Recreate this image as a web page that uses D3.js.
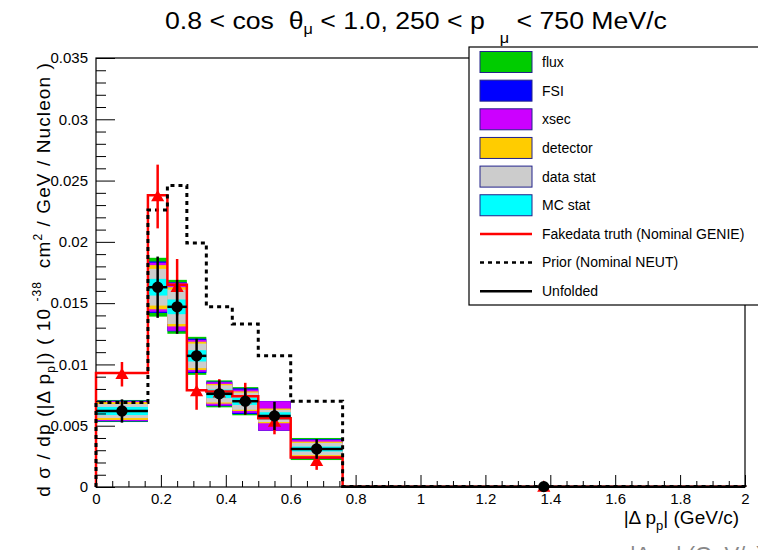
<!DOCTYPE html>
<html>
<head>
<meta charset="utf-8">
<script src="https://cdn.jsdelivr.net/npm/d3@7"></script>
<style>
  body { margin: 0; background: #fff; }
  svg { font-family: "Liberation Sans", Arial, sans-serif; }
  text { white-space: pre; }
</style>
</head>
<body>
<svg id="chart" width="758" height="550"></svg>
<script>
// bins in |dp_p| (GeV/c)
const binEdges = [0, 0.16, 0.22, 0.28, 0.34, 0.42, 0.5, 0.6, 0.76, 2.0];

// unfolded result (black points)
const unfolded    = [0.0062, 0.0163, 0.0147, 0.0107, 0.0076, 0.0070, 0.0058, 0.0031, 0.00003];
const unfoldedErr = [0.00095, 0.0025, 0.0022, 0.0014, 0.0011, 0.0011, 0.00115, 0.0008, 0.00002];

// fake data truth (red line) and fake data points (red triangles)
const fakeTruth   = [0.0093, 0.0238, 0.0165, 0.0079, 0.0078, 0.0074, 0.0056, 0.0024, 0.00002];
const fakeData    = [0.0092, 0.0237, 0.0163, 0.0078, 0.0077, 0.0072, 0.0053, 0.0021, 0.00001];
const fakeDataErr = [0.0010, 0.0026, 0.0023, 0.0015, 0.0011, 0.0013, 0.0010, 0.0007, 0.00002];

// prior (dotted)
const prior = [0.0069, 0.0226, 0.0246, 0.0199, 0.0147, 0.0133, 0.0107, 0.0070, 0.00005];

// error bands, half widths, cumulative from inner (MC stat) to outer (flux)
const bandMCstat   = [0.00033, 0.00068, 0.0006, 0.00046, 0.00035, 0.0003, 0.0003, 0.0002, 0.00001];
const bandDataStat = [0.00057, 0.0015, 0.0014, 0.0010, 0.0007, 0.0007, 0.0005, 0.0005, 0.00001];
const bandDetector = [0.00073, 0.0018, 0.0016, 0.00115, 0.0008, 0.0008, 0.0006, 0.0006, 0.00002];
const bandXsec     = [0.0008, 0.0020, 0.00196, 0.0013, 0.00095, 0.00095, 0.0012, 0.00075, 0.00002];
const bandFSI      = [0.00085, 0.0021, 0.0020, 0.0014, 0.0010, 0.00105, 0.00121, 0.0008, 0.00002];
const bandFlux     = [0.0009, 0.0024, 0.0022, 0.00155, 0.0011, 0.00115, 0.00122, 0.0009, 0.00002];

const xTicks = [0, 0.2, 0.4, 0.6, 0.8, 1, 1.2, 1.4, 1.6, 1.8, 2];
const yTicks = [0, 0.005, 0.01, 0.015, 0.02, 0.025, 0.03, 0.035];

const bands = [
  { name: "flux",      vals: bandFlux,     color: "#00cc00" },
  { name: "FSI",       vals: bandFSI,      color: "#0000ff" },
  { name: "xsec",      vals: bandXsec,     color: "#cc00ff" },
  { name: "detector",  vals: bandDetector, color: "#ffcc00" },
  { name: "data stat", vals: bandDataStat, color: "#cccccc" },
  { name: "MC stat",   vals: bandMCstat,   color: "#00ffff" }
];

const svg = d3.select("#chart");
const x = d3.scaleLinear().domain([0, 2]).range([96, 745]);
const y = d3.scaleLinear().domain([0, 0.035]).range([487, 58]);
const fmt = d3.format("~g");
const nb = binEdges.length - 1;
const bins = d3.range(nb).map(i => ({ i, x0: binEdges[i], x1: binEdges[i + 1], xc: (binEdges[i] + binEdges[i + 1]) / 2 }));

// frame
svg.append("rect")
  .attr("x", x(0)).attr("y", y(0.035))
  .attr("width", x(2) - x(0)).attr("height", y(0) - y(0.035))
  .attr("fill", "none").attr("stroke", "#000").attr("stroke-width", 1.2);

// stacked error boxes, outer first
const plot = svg.append("g");
bands.forEach(b => {
  plot.selectAll(null).data(bins).enter().append("rect")
    .attr("x", d => x(d.x0))
    .attr("width", d => x(d.x1) - x(d.x0))
    .attr("y", d => y(unfolded[d.i] + b.vals[d.i]))
    .attr("height", d => y(unfolded[d.i] - b.vals[d.i]) - y(unfolded[d.i] + b.vals[d.i]))
    .attr("fill", b.color);
});

// histogram outlines
function stepPoints(vals) {
  const pts = [[binEdges[0], 0]];
  vals.forEach((v, i) => pts.push([binEdges[i], v]));
  pts.push([binEdges[nb], vals[nb - 1]]);
  pts.push([binEdges[nb], 0]);
  return pts;
}
const stepLine = d3.line().x(d => x(d[0])).y(d => y(d[1])).curve(d3.curveStepAfter);

plot.append("path").attr("d", stepLine(stepPoints(fakeTruth)))
  .attr("fill", "none").attr("stroke", "#ff0000").attr("stroke-width", 2.5);
plot.append("path").attr("d", stepLine(stepPoints(prior)))
  .attr("fill", "none").attr("stroke", "#000").attr("stroke-width", 3)
  .attr("stroke-dasharray", "4,4");

// fake data triangles
plot.selectAll(null).data(bins).enter().append("line")
  .attr("x1", d => x(d.xc)).attr("x2", d => x(d.xc))
  .attr("y1", d => y(fakeData[d.i] - fakeDataErr[d.i]))
  .attr("y2", d => y(fakeData[d.i] + fakeDataErr[d.i]))
  .attr("stroke", "#ff0000").attr("stroke-width", 2.5);
plot.selectAll(null).data(bins).enter().append("path")
  .attr("d", d3.symbol(d3.symbolTriangle, 75))
  .attr("transform", d => `translate(${x(d.xc)},${y(fakeData[d.i]) + 1})`)
  .attr("fill", "#ff0000");

// unfolded points
plot.selectAll(null).data(bins).enter().append("line")
  .attr("x1", d => x(d.x0)).attr("x2", d => x(d.x1))
  .attr("y1", d => y(unfolded[d.i])).attr("y2", d => y(unfolded[d.i]))
  .attr("stroke", "#000").attr("stroke-width", 2.5);
plot.selectAll(null).data(bins).enter().append("line")
  .attr("x1", d => x(d.xc)).attr("x2", d => x(d.xc))
  .attr("y1", d => y(unfolded[d.i] - unfoldedErr[d.i]))
  .attr("y2", d => y(unfolded[d.i] + unfoldedErr[d.i]))
  .attr("stroke", "#000").attr("stroke-width", 2.5);
plot.selectAll(null).data(bins).enter().append("path")
  .attr("d", d3.symbol(d3.symbolCircle, 100))
  .attr("transform", d => `translate(${x(d.xc)},${y(unfolded[d.i])})`)
  .attr("fill", "#000");

// axes, ticks inside the frame
const yMinor = d3.range(0, 36).map(i => i * 0.001).filter(v => Math.round(v * 1000) % 5 !== 0);
const xMinor = d3.range(0, 41).map(i => i * 0.05).filter(v => Math.round(v * 100) % 20 !== 0);

svg.append("g").attr("transform", `translate(${x(0)},0)`)
  .call(d3.axisLeft(y).tickValues(yTicks).tickFormat(fmt).tickSize(-19).tickPadding(8));
svg.append("g").attr("transform", `translate(${x(0)},0)`)
  .call(d3.axisLeft(y).tickValues(yMinor).tickFormat("").tickSize(-10));
svg.append("g").attr("transform", `translate(0,${y(0)})`)
  .call(d3.axisBottom(x).tickValues(xTicks).tickFormat(fmt).tickSize(-12).tickPadding(6));
svg.append("g").attr("transform", `translate(0,${y(0)})`)
  .call(d3.axisBottom(x).tickValues(xMinor).tickFormat("").tickSize(-6));
svg.selectAll(".domain").remove();
svg.selectAll(".tick line").attr("stroke", "#000");
svg.selectAll(".tick text").attr("font-size", 15).attr("fill", "#000")
  .attr("font-family", "Liberation Sans, Arial, sans-serif");

// title (ROOT renders it wide)
const title = svg.append("text").attr("transform", "translate(165,29) scale(1.16,1)").attr("font-size", 23);
title.append("tspan").text("0.8 < cos  θ");
title.append("tspan").attr("dy", 5).attr("font-size", 14).text("μ");
title.append("tspan").attr("dy", -5).text(" < 1.0, 250 < p  ");
title.append("tspan").attr("dy", 14).attr("font-size", 14).text("μ");
title.append("tspan").attr("dy", -14).text(" < 750 MeV/c");

// y title
const yt = svg.append("text").attr("transform", "translate(50,62) rotate(-90)")
  .attr("text-anchor", "end").attr("font-size", 19).attr("letter-spacing", 1.1);
yt.append("tspan").text("d σ / dp (|Δ p");
yt.append("tspan").attr("dy", 5).attr("font-size", 12).text("p");
yt.append("tspan").attr("dy", -5).text("|) ( 10 ");
yt.append("tspan").attr("dy", -9).attr("font-size", 12).text("-38");
yt.append("tspan").attr("dy", 9).text("  cm");
yt.append("tspan").attr("dy", -8).attr("font-size", 12).text("2");
yt.append("tspan").attr("dy", 8).text(" / GeV / Nucleon )");

// x title
const xt = svg.append("text").attr("x", 739).attr("y", 524)
  .attr("text-anchor", "end").attr("font-size", 19);
xt.append("tspan").text("|Δ p");
xt.append("tspan").attr("dy", 6).attr("font-size", 13).text("p");
xt.append("tspan").attr("dy", -6).text("| (GeV/c)");

// faint clipped copy at the very bottom
const xt2 = svg.append("text").attr("x", 630).attr("y", 562).attr("font-size", 22).attr("fill", "#888");
xt2.append("tspan").text("|Δ p");
xt2.append("tspan").attr("dy", 6).attr("font-size", 15).text("p");
xt2.append("tspan").attr("dy", -6).text("| (GeV/c)");

// legend
const leg = svg.append("g");
leg.append("rect").attr("x", 469).attr("y", 47).attr("width", 295).attr("height", 258)
  .attr("fill", "#fff").attr("stroke", "#000").attr("stroke-width", 1.2);
const rowY = i => 62 + i * 28.65;
bands.forEach((b, i) => {
  leg.append("rect").attr("x", 480).attr("y", rowY(i) - 10.5).attr("width", 52).attr("height", 21)
    .attr("fill", b.color).attr("stroke", "#22228a").attr("stroke-width", 1);
});
const lineEntries = [
  { name: "Fakedata truth (Nominal GENIE)", color: "#ff0000", dash: null, w: 2.5 },
  { name: "Prior (Nominal NEUT)", color: "#000", dash: "4,4", w: 2.5 },
  { name: "Unfolded", color: "#000", dash: null, w: 2.5 }
];
lineEntries.forEach((e, k) => {
  const yy = rowY(bands.length + k);
  leg.append("line").attr("x1", 480).attr("x2", 532).attr("y1", yy).attr("y2", yy)
    .attr("stroke", e.color).attr("stroke-width", e.w).attr("stroke-dasharray", e.dash);
});
bands.map(b => b.name).concat(lineEntries.map(e => e.name)).forEach((name, i) => {
  leg.append("text").attr("x", 542).attr("y", rowY(i)).attr("dy", "0.35em")
    .attr("font-size", 14).text(name);
});
</script>
</body>
</html>
